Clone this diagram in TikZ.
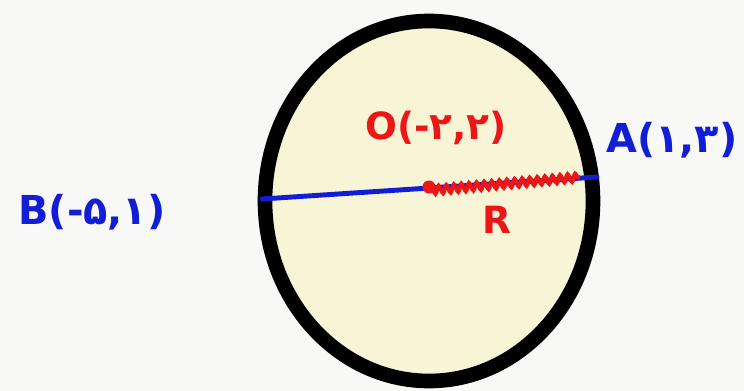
\documentclass[tikz,border=0pt]{standalone}
\usepackage{fontspec}
\usepackage{tikz}
\usetikzlibrary{decorations.pathmorphing}
\newfontfamily\hand{DejaVu Sans}
\definecolor{penred}{RGB}{236, 22, 22}
\definecolor{penblue}{RGB}{18, 30, 214}
\definecolor{paper}{RGB}{248, 248, 247}
\definecolor{discfill}{RGB}{248, 244, 214}

\begin{document}
\begin{tikzpicture}[x=0.03cm, y=-0.03cm, font=\hand\bfseries]

  \fill[paper] (0,0) rectangle (744,391);
  \useasboundingbox (0,0) rectangle (744,391);

  \draw[fill=discfill, draw=black, line width=12.5pt] (429,201) ellipse [x radius=164, y radius=180];

  \coordinate (B) at (262,199);
  \coordinate (A) at (597,177);
  \coordinate (O) at (429,187);
  \coordinate (Rend) at (580,176);

  \draw[penblue, line width=4.2pt, line cap=round] (B) -- (A);
  \draw[penred, line width=3.4pt, decorate, decoration={snake, amplitude=3.4pt, segment length=6.5pt}] ([yshift=-3pt]O) -- ([yshift=-1pt]Rend);
  \fill[penred] (O) circle [radius=6.5];

  \node[penred, font=\hand\bfseries\fontsize{32}{32}\selectfont] (labO) at (436,128) {O(-۲,۲)};
  \node[penblue, font=\hand\bfseries\fontsize{34}{34}\selectfont] (labA) at (672,140) {A(۱,۳)};
  \node[penblue, font=\hand\bfseries\fontsize{34}{34}\selectfont] (labB) at (92,212) {B(-۵,۱)};
  \node[penred, font=\hand\bfseries\fontsize{32}{32}\selectfont] (labR) at (497,220) {R};

\end{tikzpicture}
\end{document}
